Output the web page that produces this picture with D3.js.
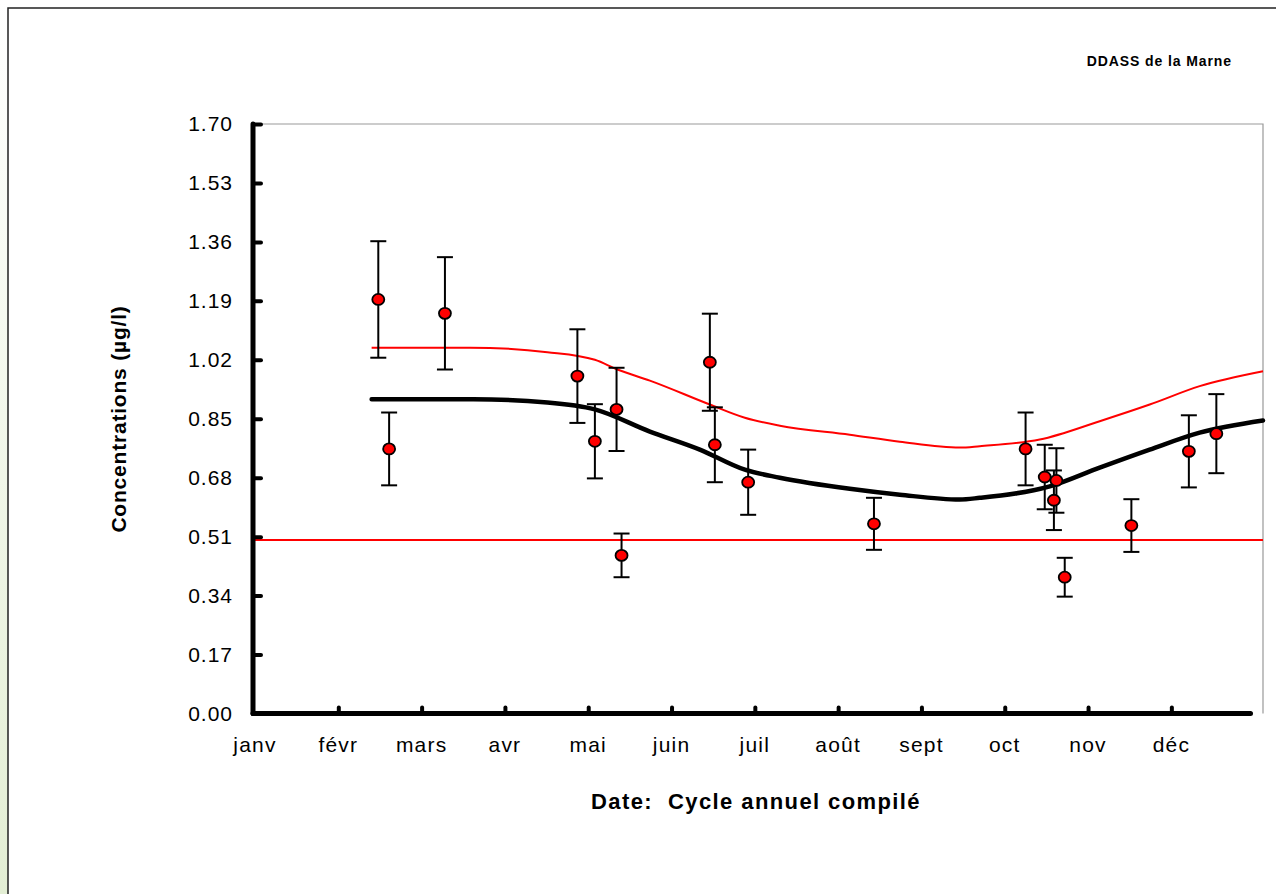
<html>
<head>
<meta charset="utf-8" />
<script src="https://cdn.jsdelivr.net/npm/d3@7"></script>
<style>
  body { margin:0; background:#fff; }
  text { font-family:"Liberation Sans", Arial, sans-serif; }
</style>
</head>
<body>
<svg width="1276" height="894"></svg>
<script>
// mois (0 = janv) et concentrations
var mois = ["janv","févr","mars","avr","mai","juin","juil","août","sept","oct","nov","déc"];
var yTicks = [0.00,0.17,0.34,0.51,0.68,0.85,1.02,1.19,1.36,1.53,1.70];

var ptMois = [1.48,1.61,2.28,3.87,4.08,4.34,4.40,5.46,5.52,5.92,7.43,9.25,9.48,9.62,9.59,9.72,10.52,11.21,11.54];
var ptVal  = [1.194,0.763,1.154,0.973,0.785,0.877,0.456,1.013,0.775,0.667,0.547,0.763,0.682,0.672,0.615,0.393,0.542,0.756,0.807];
var ptErr  = [0.168,0.105,0.162,0.135,0.107,0.120,0.063,0.140,0.108,0.094,0.075,0.105,0.093,0.093,0.086,0.056,0.076,0.104,0.114];

// courbe ajustée (noire) et borne haute (rouge)
var fitMois = [1.40,2.62,3.51,4.08,4.74,5.34,5.88,6.30,7.14,7.74,8.46,8.70,9.54,10.14,10.74,11.34,12.10];
var fitVal  = [0.906,0.906,0.897,0.877,0.813,0.761,0.703,0.680,0.648,0.631,0.617,0.622,0.655,0.709,0.761,0.810,0.845];
var supMois = [1.40,2.58,3.51,4.08,4.35,4.74,5.46,5.88,6.30,7.14,7.74,8.46,8.70,9.42,10.14,10.74,11.34,12.10];
var supVal  = [1.055,1.055,1.042,1.020,0.992,0.960,0.891,0.853,0.830,0.804,0.784,0.767,0.771,0.790,0.843,0.891,0.944,0.987];

var seuil = 0.50;

var svg = d3.select("svg");

// bande verte a gauche
var defs = svg.append("defs");
var grad = defs.append("linearGradient").attr("id","vert").attr("x1",0).attr("y1",0).attr("x2",0).attr("y2",1);
grad.append("stop").attr("offset","0%").attr("stop-color","#ffffff");
grad.append("stop").attr("offset","100%").attr("stop-color","#e3eed4");
svg.append("rect").attr("x",0).attr("y",0).attr("width",8).attr("height",894).attr("fill","url(#vert)");

// cadre exterieur
svg.append("path").attr("d","M8,894 V8 H1276").attr("fill","none").attr("stroke","#222").attr("stroke-width",1.5);

var x = d3.scaleLinear().domain([0,12.1]).range([255,1263]);
var y = d3.scaleLinear().domain([0,1.70]).range([713.5,124]);

// bord de la zone de tracé
svg.append("path").attr("d","M"+x(0)+","+y(1.70)+" H"+x(12.1)+" V"+y(0))
   .attr("fill","none").attr("stroke","#999").attr("stroke-width",1.2);

// seuil
svg.append("line").attr("x1",x(0)).attr("x2",x(12.1)).attr("y1",y(seuil)).attr("y2",y(seuil))
   .attr("stroke","#ff0000").attr("stroke-width",2);

var line = d3.line().x(function(d){return x(d[0])}).y(function(d){return y(d[1])}).curve(d3.curveMonotoneX);

svg.append("path").datum(d3.zip(supMois,supVal)).attr("d",line)
   .attr("fill","none").attr("stroke","#ff0000").attr("stroke-width",2);
svg.append("path").datum(d3.zip(fitMois,fitVal)).attr("d",line)
   .attr("fill","none").attr("stroke","#000").attr("stroke-width",4.5).attr("stroke-linecap","round");

// axes
var yAxis = svg.append("g").attr("transform","translate("+(x(0)-2)+",0)")
   .call(d3.axisRight(y).tickValues(yTicks).tickSize(8).tickFormat(""));
yAxis.select(".domain").remove();
yAxis.selectAll("line").attr("stroke","#000").attr("stroke-width",4).attr("stroke-linecap","round");

var xAxis = svg.append("g").attr("transform","translate(0,"+(y(0))+")")
   .call(d3.axisTop(x).tickValues(d3.range(1,12)).tickSize(6).tickFormat(""));
xAxis.select(".domain").remove();
xAxis.selectAll("line").attr("stroke","#000").attr("stroke-width",4).attr("stroke-linecap","round");

svg.append("line").attr("x1",x(0)-2).attr("x2",x(0)-2).attr("y1",y(1.70)).attr("y2",y(0))
   .attr("stroke","#000").attr("stroke-width",5).attr("stroke-linecap","round");
svg.append("line").attr("x1",x(0)-2).attr("x2",x(11.95)).attr("y1",y(0)).attr("y2",y(0))
   .attr("stroke","#000").attr("stroke-width",5).attr("stroke-linecap","round");

svg.append("g").selectAll("text").data(yTicks).enter().append("text")
   .attr("x",233).attr("y",function(d){return y(d)}).attr("dy","0.35em")
   .attr("text-anchor","end").attr("font-size",21).attr("letter-spacing",1).text(function(d){return d.toFixed(2)});

svg.append("g").selectAll("text").data(mois).enter().append("text")
   .attr("x",function(d,i){return x(i)}).attr("y",752)
   .attr("text-anchor","middle").attr("font-size",21).attr("letter-spacing",1.2).text(function(d){return d});

// barres d'erreur et points
var pts = d3.range(ptMois.length).map(function(i){return {m:ptMois[i],v:ptVal[i],e:ptErr[i]}});
var eb = svg.append("g").attr("stroke","#000").attr("stroke-width",2);
pts.forEach(function(d){
  var cx = x(d.m);
  eb.append("line").attr("x1",cx).attr("x2",cx).attr("y1",y(d.v+d.e)).attr("y2",y(d.v-d.e));
  eb.append("line").attr("x1",cx-8).attr("x2",cx+8).attr("y1",y(d.v+d.e)).attr("y2",y(d.v+d.e));
  eb.append("line").attr("x1",cx-8).attr("x2",cx+8).attr("y1",y(d.v-d.e)).attr("y2",y(d.v-d.e));
});
svg.append("g").selectAll("ellipse").data(pts).enter().append("ellipse")
   .attr("cx",function(d){return x(d.m)}).attr("cy",function(d){return y(d.v)})
   .attr("rx",6).attr("ry",5.5).attr("fill","#ff0000").attr("stroke","#000").attr("stroke-width",1.8);

// titres
svg.append("text").attr("x",756).attr("y",809).attr("text-anchor","middle")
   .attr("font-size",22).attr("font-weight","bold").attr("letter-spacing",1.4).attr("xml:space","preserve").text("Date:  Cycle annuel compilé");
svg.append("text").attr("transform","translate(126,419) rotate(-90)").attr("text-anchor","middle")
   .attr("font-size",21).attr("font-weight","bold").attr("letter-spacing",0.8).text("Concentrations (µg/l)");
svg.append("text").attr("x",1232).attr("y",66).attr("text-anchor","end")
   .attr("font-size",14).attr("font-weight","bold").attr("letter-spacing",0.9).text("DDASS de la Marne");
</script>
</body>
</html>
